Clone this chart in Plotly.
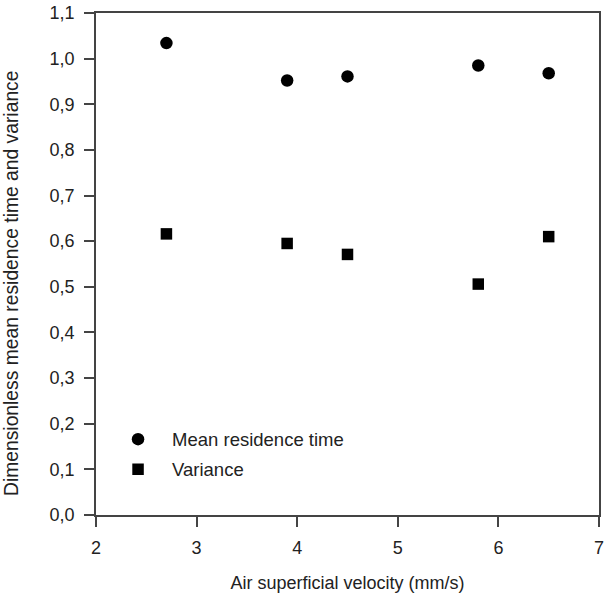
import plotly.graph_objects as go

velocity = [2.7, 3.9, 4.5, 5.8, 6.5]
mean_residence = [1.034, 0.952, 0.961, 0.985, 0.968]
variance = [0.616, 0.595, 0.571, 0.506, 0.610]

x_title = "Air superficial velocity (mm/s)"
y_title = "Dimensionless mean residence time and variance"

FONT = "Liberation Sans, Arial, sans-serif"

fig = go.Figure()
fig.add_trace(go.Scatter(x=velocity, y=mean_residence, mode="markers",
                         name="Mean residence time", legendgroup="a",
                         marker=dict(symbol="circle", size=12.5, color="black")))
fig.add_trace(go.Scatter(x=velocity, y=variance, mode="markers",
                         name="Variance", legendgroup="b",
                         marker=dict(symbol="square", size=11.5, color="black")))

axis_common = dict(showline=True, linecolor="#444", linewidth=1.5, mirror=True,
                   ticks="outside", ticklen=10, tickwidth=1.5, tickcolor="#444",
                   showgrid=False, zeroline=False, automargin=False,
                   tickfont=dict(family=FONT, size=18, color="#222"))

fig.update_layout(
    width=613, height=594,
    margin=dict(l=96, r=14, t=13, b=79),
    plot_bgcolor="white", paper_bgcolor="white",
    separators=",.",
    font=dict(family=FONT, color="#222"),
    xaxis=dict(range=[2, 7], dtick=1, tick0=2,
               title=dict(text=x_title,
                          font=dict(family=FONT, size=18, color="#222"), standoff=19),
               ticklabelstandoff=6,
               **axis_common),
    yaxis=dict(range=[0, 1.1], dtick=0.1, tick0=0, tickformat=".1f",
               ticklabelstandoff=6,
               **axis_common),
    legend=dict(x=0.016, y=0.188, xanchor="left", yanchor="top",
                bgcolor="rgba(0,0,0,0)", itemwidth=58,
                font=dict(family=FONT, size=18.5, color="#222"),
                tracegroupgap=3),
    showlegend=True,
    annotations=[dict(text=y_title, textangle=-90, showarrow=False,
                      xref="paper", yref="paper", x=0, y=0.5,
                      xanchor="center", yanchor="middle", xshift=-85, yshift=-20,
                      font=dict(family=FONT, size=19.3, color="#222"))],
)

fig.write_html("out.html", config={"displayModeBar": False},
               post_script="document.body.style.margin='0';")
